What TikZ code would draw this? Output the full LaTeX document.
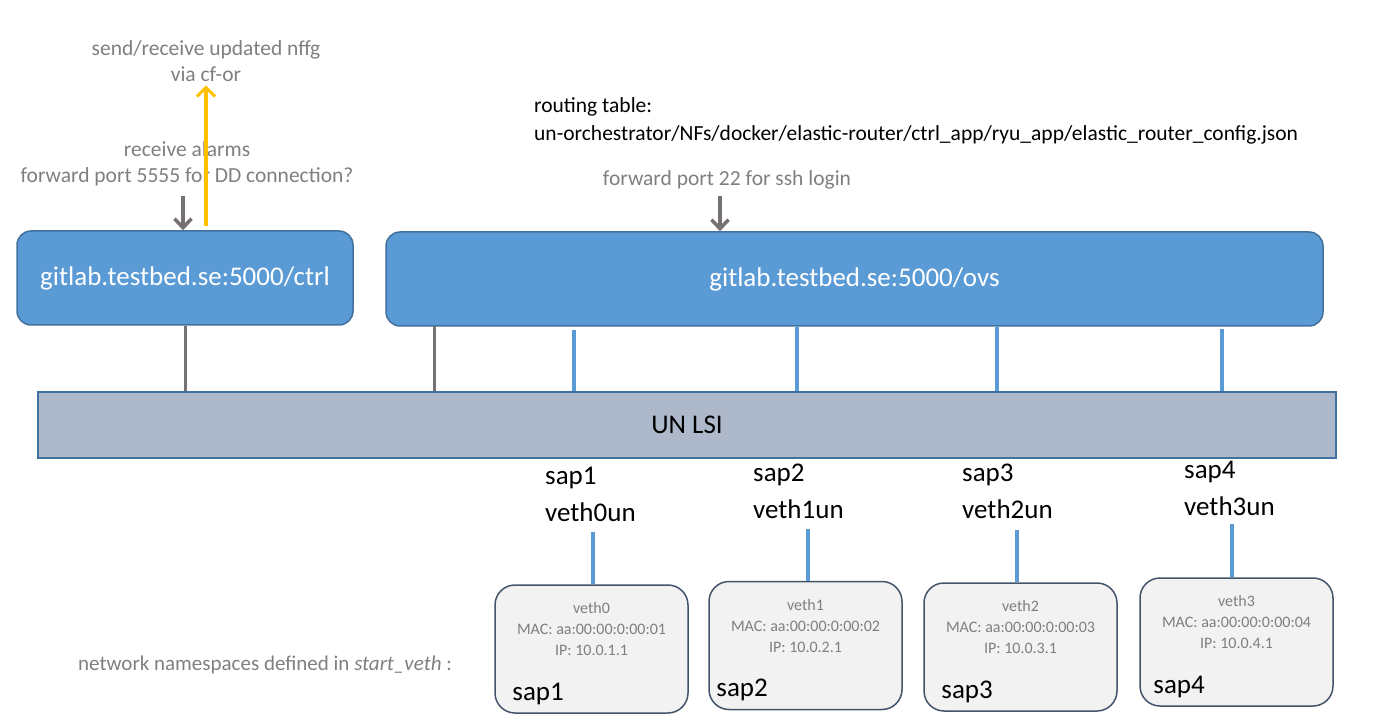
\documentclass[tikz,border=0pt]{standalone}
\usepackage{fontspec}
\setmainfont{Carlito}
\usetikzlibrary{arrows.meta,positioning,calc}
\definecolor{boxblue}{HTML}{5B9BD5}
\definecolor{boxedge}{HTML}{41719C}
\definecolor{lsifill}{HTML}{ADB9CA}
\definecolor{nsfill}{HTML}{F2F2F2}
\definecolor{nsedge}{HTML}{44546A}
\definecolor{note}{HTML}{7F7F7F}
\definecolor{wire}{HTML}{767171}
\definecolor{amber}{HTML}{FFC000}
\tikzset{cbox/.style={draw=boxedge,fill=boxblue,line width=1.5pt,rounded corners=14pt,
  inner sep=0pt,text=white,font=\fontsize{27}{30}\selectfont},
  lsibox/.style={draw=boxedge,fill=lsifill,line width=1.5pt,inner sep=0pt,
  minimum width=1298pt,minimum height=66pt,font=\fontsize{27}{30}\selectfont},
  nsbox/.style={draw=nsedge,fill=nsfill,line width=1.5pt,rounded corners=20pt,
  minimum width=193pt,minimum height=128pt,inner sep=0pt},
  info/.style={text=note,align=center,inner sep=0pt,font=\fontsize{16}{21}\selectfont},
  sapname/.style={anchor=south west,inner sep=0pt,font=\fontsize{27}{30}\selectfont},
  portlabel/.style={anchor=west,align=left,inner sep=0pt,font=\fontsize{27}{37}\selectfont},
  note/.style={text=note,align=center,inner sep=0pt,font=\fontsize{21.5}{25.5}\selectfont},
  graywire/.style={draw=wire,line width=3pt},
  bluewire/.style={draw=boxblue,line width=4pt},
  grayarrow/.style={-{Straight Barb[length=9pt,width=17pt,line width=3.5pt]},draw=wire,line width=4pt},
  amberarrow/.style={-{Straight Barb[length=9pt,width=18pt,line width=3pt]},draw=amber,line width=4pt}}
\begin{document}
\begin{tikzpicture}[x=1pt,y=-1pt]
\useasboundingbox (0,0) rectangle (1374,719);
% containers and switch
\node[cbox,minimum width=336pt,minimum height=94pt] (ctrl) at (185,278) {gitlab.testbed.se:5000/ctrl};
\node[cbox,minimum width=937pt,minimum height=94pt] (ovs) at (854.5,279) {gitlab.testbed.se:5000/ovs};
\node[lsibox] (lsi) at (687,425) {UN LSI};
% notes on top
\node[note] (nffg) at (206,61) {send/receive updated nffg\\via cf-or};
\node[note] (alarms) at (187,164) {receive alarms\\forward port 5555 for DD connection?};
\node[note] (ssh) at (727,180) {forward port 22 for ssh login};
\node[portlabel,text=black,font=\fontsize{21.5}{28}\selectfont] (routing) at (534,121) {routing table:\\un-orchestrator/NFs/docker/elastic-router/ctrl\_app/ryu\_app/elastic\_router\_config.json};
\coordinate (ctrlin) at (183,196);
\coordinate (ovsin) at (720,196);
\coordinate (ctrlout) at (206,226);
\draw[grayarrow] (ctrlin) -- (ctrlin |- ctrl.north);
\draw[grayarrow] (ovsin) -- (ovsin |- ovs.north);
\draw[amberarrow] (ctrlout) -- ($(ctrlout |- nffg.south)+(0,4)$);
% links into the switch
\draw[graywire] (ctrl.south) -- (ctrl.south |- lsi.north);
\coordinate (ovsctl) at (434,326);
\draw[graywire] (ovsctl) -- (ovsctl |- lsi.north);
\coordinate (p1) at (574,330);
\coordinate (p2) at (797,327);
\coordinate (p3) at (997,327);
\coordinate (p4) at (1222,329);
\draw[bluewire] (p1) -- (p1 |- lsi.north);
\draw[bluewire] (p2) -- (p2 |- lsi.north);
\draw[bluewire] (p3) -- (p3 |- lsi.north);
\draw[bluewire] (p4) -- (p4 |- lsi.north);
% switch ports
\node[portlabel] (port1) at (545,494) {sap1\\veth0un};
\node[portlabel] (port2) at (753,491) {sap2\\veth1un};
\node[portlabel] (port3) at (962,491) {sap3\\veth2un};
\node[portlabel] (port4) at (1184,488) {sap4\\veth3un};
% network namespaces
\node[nsbox] (ns1) at (591.5,649) {};
\node[nsbox] (ns2) at (805.5,645.5) {};
\node[nsbox] (ns3) at (1020.5,647) {};
\node[nsbox] (ns4) at (1236.5,642) {};
\node[info,below=18pt of ns1.north] (info1) {veth0\\MAC: aa:00:00:0:00:01\\IP: 10.0.1.1};
\node[info,below=18pt of ns2.north] (info2) {veth1\\MAC: aa:00:00:0:00:02\\IP: 10.0.2.1};
\node[info,below=18pt of ns3.north] (info3) {veth2\\MAC: aa:00:00:0:00:03\\IP: 10.0.3.1};
\node[info,below=18pt of ns4.north] (info4) {veth3\\MAC: aa:00:00:0:00:04\\IP: 10.0.4.1};
\node[sapname,above right=9pt and 18pt of ns1.south west] (sap1) {sap1};
\node[sapname,above right=9pt and 8pt of ns2.south west] (sap2) {sap2};
\node[sapname,above right=9pt and 18pt of ns3.south west] (sap3) {sap3};
\node[sapname,above right=9pt and 14pt of ns4.south west] (sap4) {sap4};
\coordinate (v1) at (593,532);
\coordinate (v2) at (808,529);
\coordinate (v3) at (1017,530);
\coordinate (v4) at (1232,524);
\draw[bluewire] (v1) -- (v1 |- ns1.north);
\draw[bluewire] (v2) -- (v2 |- ns2.north);
\draw[bluewire] (v3) -- (v3 |- ns3.north);
\draw[bluewire] (v4) -- (v4 |- ns4.north);
\node[note,anchor=west,font=\fontsize{21}{25}\selectfont] (nsnote) at (78,665) {network namespaces defined in \textit{start\_veth} :};
\end{tikzpicture}
\end{document}
